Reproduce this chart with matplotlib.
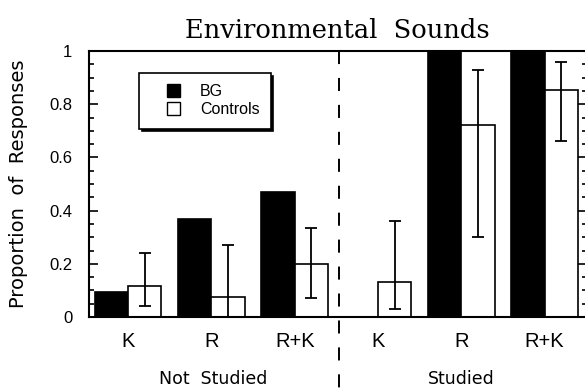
import matplotlib
matplotlib.use("Agg")
import matplotlib.pyplot as plt
import numpy as np
from matplotlib.ticker import MultipleLocator, FixedLocator, FixedFormatter
from matplotlib.legend_handler import HandlerPatch, update_from_first_child
from matplotlib.patches import Rectangle
from matplotlib.container import BarContainer

categories = ["K", "R", "R+K", "K", "R", "R+K"]
groups = ["Not  Studied", "Studied"]
bg = [0.095, 0.37, 0.47, 0.0, 1.0, 1.0]
controls = [0.117, 0.075, 0.20, 0.13, 0.72, 0.853]
err_low = [0.04, 0.0, 0.07, 0.03, 0.30, 0.66]
err_high = [0.24, 0.27, 0.335, 0.36, 0.93, 0.96]
yticks = [0, 0.2, 0.4, 0.6, 0.8, 1]
ytick_labels = ["0", "0.2", "0.4", "0.6", "0.8", "1"]

plt.rcParams['lines.scale_dashes'] = False
fig = plt.figure(figsize=(5.85, 3.88), dpi=100)
W, H = 585, 388
ax = fig.add_axes([89 / W, 1 - 317 / H, (587 - 89) / W, (317 - 51) / H])

x = np.arange(len(categories))
bw = 0.4
ax.bar(x - bw / 2, bg, width=bw, color="black", edgecolor="black", linewidth=1.2, label="BG")
ax.bar(x + bw / 2, controls, width=bw, color="white", edgecolor="black", linewidth=1.2, label="Controls")
c = np.array(controls)
yerr = np.vstack([c - np.array(err_low), np.array(err_high) - c])
ax.errorbar(x + bw / 2, controls, yerr=yerr, fmt="none", ecolor="black", elinewidth=1.3,
            capsize=4.5, capthick=1.3)

ax.plot([2.53, 2.53], [1, -0.3], color="black", lw=1.4, dashes=(9.4, 10), clip_on=False)

ax.set_xlim(-0.47, 5.51)
ax.set_ylim(0, 1)
ax.yaxis.set_major_locator(FixedLocator(yticks))
ax.yaxis.set_major_formatter(FixedFormatter(ytick_labels))
ax.yaxis.set_minor_locator(MultipleLocator(0.05))
ax.tick_params(axis="y", which="both", direction="in", left=True, right=True, width=1.2)
ax.tick_params(axis="y", which="major", length=6.5, pad=12, labelsize=12)
ax.tick_params(axis="y", which="minor", length=3.6)
for lab in ax.get_yticklabels():
    lab.set_fontfamily("Liberation Sans")
ax.set_xticks(x)
ax.set_xticklabels(categories, fontfamily="Liberation Sans", fontsize=14.5)
ax.tick_params(axis="x", length=0, pad=11)
for s in ax.spines.values():
    s.set_linewidth(1.5)

fig.text(19 / W, 1 - 184 / H, "Proportion  of  Responses", rotation=90, ha="center", va="center",
         fontsize=14, fontfamily="DejaVu Sans")
fig.text(213 / W, 1 - 379 / H, groups[0], ha="center", va="center", fontsize=12.5, fontfamily="DejaVu Sans")
fig.text(461 / W, 1 - 379 / H, groups[1], ha="center", va="center", fontsize=12.5, fontfamily="DejaVu Sans")
fig.text(337 / W, 1 - 30 / H, "Environmental  Sounds", ha="center", va="center", fontsize=18.5,
         fontfamily="DejaVu Serif")

SQ = 9.4  # legend square size in points


def square(legend, orig_handle, xdescent, ydescent, width, height, fontsize):
    return Rectangle((-xdescent + width - SQ, -ydescent + (height - SQ) / 2), SQ, SQ)


leg = ax.legend(loc="upper left", bbox_to_anchor=(0.10, 0.917), borderaxespad=0, fancybox=False,
                edgecolor="black", framealpha=1, shadow={"color": "black", "alpha": 1},
                prop={"family": "Liberation Sans", "size": 11.5}, handlelength=1.875, handleheight=0.8,
                handletextpad=1.25, labelspacing=0.2, borderpad=0.7,
                handler_map={BarContainer: HandlerPatch(patch_func=square,
                                                        update_func=update_from_first_child)})
leg.get_frame().set_linewidth(1.2)
for h in leg.legend_handles:
    h.set_linewidth(1.0)

fig.savefig("out.png", dpi=100)
